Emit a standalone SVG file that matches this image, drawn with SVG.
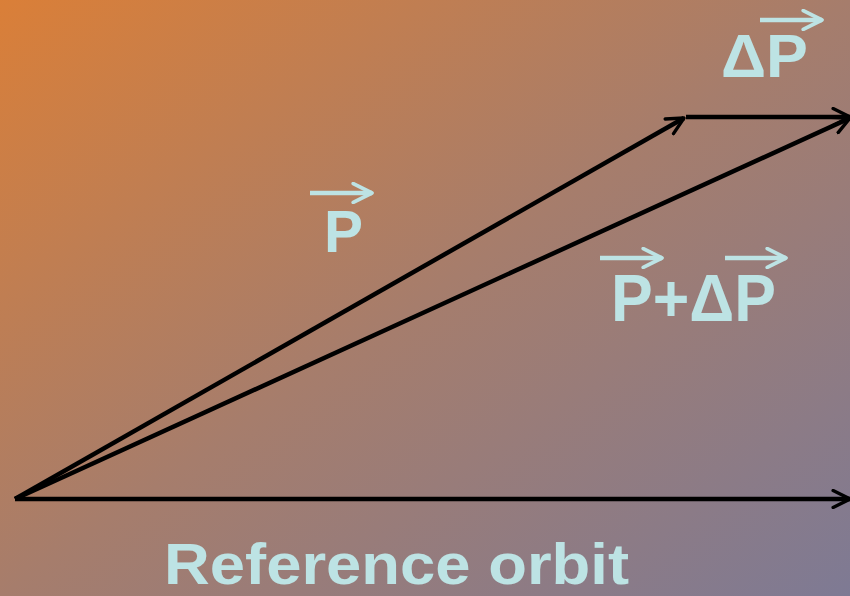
<svg xmlns="http://www.w3.org/2000/svg" width="850" height="596" viewBox="0 0 850 596">
<defs>
<linearGradient id="bg" x1="0" y1="0" x2="1" y2="1">
<stop offset="0" stop-color="#DA7F38"/>
<stop offset="0.5" stop-color="#A67D6C"/>
<stop offset="1" stop-color="#7E7A94"/>
</linearGradient>
<marker id="ah" viewBox="0 0 12 12" refX="11" refY="6" markerWidth="4.5" markerHeight="4.5" orient="auto" markerUnits="strokeWidth">
<path d="M1,1 L11,6 L1,11" fill="none" stroke="#000" stroke-width="2" stroke-linecap="round" stroke-linejoin="round"/>
</marker>
<marker id="lh" viewBox="0 0 12 12" refX="11" refY="6" markerWidth="5" markerHeight="5" orient="auto" markerUnits="strokeWidth">
<path d="M1,1 L11,6 L1,11" fill="none" stroke="#BDE3E4" stroke-width="2" stroke-linecap="round" stroke-linejoin="round"/>
</marker>
</defs>
<style>
.v{stroke:#000;stroke-width:4.5;fill:none;marker-end:url(#ah)}
.t{font-family:"Liberation Sans",Arial,sans-serif;font-weight:bold;fill:#BDE3E4}
.la{stroke:#BDE3E4;stroke-width:4.5;fill:none;marker-end:url(#lh)}
</style>
<rect width="850" height="596" fill="url(#bg)"/>
<g id="connectors">
<line class="v" x1="15" y1="499" x2="684" y2="118"/>
<line class="v" x1="686" y1="117" x2="850" y2="117"/>
<line class="v" x1="15" y1="499" x2="850" y2="118"/>
<line class="v" x1="15" y1="499" x2="850" y2="499"/>
</g>
<g id="label-p">
<text class="t" x="324" y="252" font-size="60" textLength="39" lengthAdjust="spacingAndGlyphs">P</text>
<line class="la" x1="310" y1="193" x2="372" y2="193"/>
</g>
<g id="label-dp">
<text class="t" x="721" y="77" font-size="62" textLength="87" lengthAdjust="spacingAndGlyphs">ΔP</text>
<line class="la" x1="760" y1="20" x2="822" y2="20"/>
</g>
<g id="label-pdp">
<text class="t" x="611" y="321" font-size="66" textLength="165" lengthAdjust="spacingAndGlyphs">P+ΔP</text>
<line class="la" x1="600" y1="258" x2="662" y2="258"/>
<line class="la" x1="725" y1="258" x2="786" y2="258"/>
</g>
<g id="label-orbit">
<text class="t" x="164" y="584" font-size="57" textLength="465" lengthAdjust="spacingAndGlyphs">Reference orbit</text>
</g>
</svg>
